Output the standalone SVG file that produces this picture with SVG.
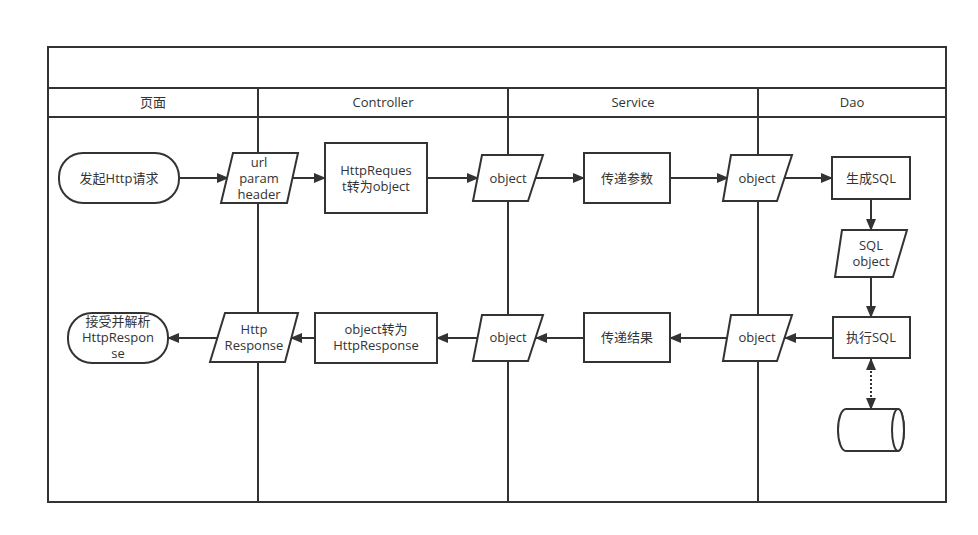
<svg xmlns="http://www.w3.org/2000/svg" width="978" height="535" viewBox="0 0 978 535">
<defs>
<style>
.ln{fill:none;stroke:#333;stroke-width:2}
.sh{fill:#fff;stroke:#333;stroke-width:2}
.c{stroke:#333;stroke-width:2;fill:none}
text{font-family:"Open Sans","Noto Sans CJK SC",sans-serif;font-size:13px;fill:#333;text-anchor:middle}
</style>
<marker id="ar" viewBox="0 0 12 10" refX="11" refY="5" markerWidth="12" markerHeight="10" markerUnits="userSpaceOnUse" orient="auto">
<path d="M0,0 L12,5 L0,10 Z" fill="#333"/>
</marker>
<marker id="as" viewBox="0 0 12 10" refX="1" refY="5" markerWidth="12" markerHeight="10" markerUnits="userSpaceOnUse" orient="auto">
<path d="M12,0 L0,5 L12,10 Z" fill="#333"/>
</marker>
</defs>
<rect width="978" height="535" fill="#fff"/>
<g id="pool">
<rect class="ln" x="48" y="47" width="898" height="455"/>
<line class="ln" x1="48" y1="88" x2="946" y2="88"/>
<line class="ln" x1="48" y1="117" x2="946" y2="117"/>
<line class="ln" x1="258" y1="88" x2="258" y2="502"/>
<line class="ln" x1="508" y1="88" x2="508" y2="502"/>
<line class="ln" x1="758" y1="88" x2="758" y2="502"/>
<text x="153" y="107">页面</text>
<text x="383" y="107">Controller</text>
<text x="633" y="107">Service</text>
<text x="852" y="107">Dao</text>
</g>
<g id="connectors">
<line class="c" x1="179" y1="178" x2="228" y2="178" marker-end="url(#ar)"/>
<line class="c" x1="293" y1="178" x2="325" y2="178" marker-end="url(#ar)"/>
<line class="c" x1="427" y1="178" x2="478" y2="178" marker-end="url(#ar)"/>
<line class="c" x1="536" y1="178" x2="584" y2="178" marker-end="url(#ar)"/>
<line class="c" x1="670" y1="178" x2="728" y2="178" marker-end="url(#ar)"/>
<line class="c" x1="785" y1="178" x2="832" y2="178" marker-end="url(#ar)"/>
<line class="c" x1="871" y1="199" x2="871" y2="230" marker-end="url(#ar)"/>
<line class="c" x1="871" y1="277" x2="871" y2="317" marker-end="url(#ar)"/>
<line class="c" x1="833" y1="338" x2="785" y2="338" marker-end="url(#ar)"/>
<line class="c" x1="728" y1="338" x2="670" y2="338" marker-end="url(#ar)"/>
<line class="c" x1="584" y1="338" x2="536" y2="338" marker-end="url(#ar)"/>
<line class="c" x1="478" y1="338" x2="437" y2="338" marker-end="url(#ar)"/>
<line class="c" x1="315" y1="338" x2="291" y2="338" marker-end="url(#ar)"/>
<line class="c" x1="217" y1="338" x2="168" y2="338" marker-end="url(#ar)"/>
<line class="c" x1="871" y1="359" x2="871" y2="409" stroke-dasharray="2,2" marker-start="url(#as)" marker-end="url(#ar)"/>
</g>
<g id="n1"><rect class="sh" x="59" y="153" width="120" height="50" rx="24"/><text x="119" y="183">发起Http请求</text></g>
<g id="n2"><polygon class="sh" points="233,153 298,153 287,203 221,203"/><text x="259" y="167">url</text><text x="259" y="183">param</text><text x="259" y="199">header</text></g>
<g id="n3"><rect class="sh" x="325" y="143" width="102" height="70"/><text x="376" y="175">HttpReques</text><text x="376" y="191">t转为object</text></g>
<g id="n4"><polygon class="sh" points="482,155 543,155 528,201 473,201"/><text x="508" y="183">object</text></g>
<g id="n5"><rect class="sh" x="584" y="153" width="86" height="50"/><text x="627" y="183">传递参数</text></g>
<g id="n6"><polygon class="sh" points="731,155 792,155 777,201 723,201"/><text x="757" y="183">object</text></g>
<g id="n7"><rect class="sh" x="832" y="157" width="78" height="42"/><text x="871" y="183">生成SQL</text></g>
<g id="n8"><polygon class="sh" points="842,230 907,230 893,277 835,277"/><text x="871" y="250">SQL</text><text x="871" y="266">object</text></g>
<g id="n9"><rect class="sh" x="833" y="317" width="77" height="41"/><text x="871" y="342">执行SQL</text></g>
<g id="n10"><path class="sh" d="M846,409 L898,409 A6,21 0 0 1 898,451 L846,451 A8,21 0 0 1 846,409 Z"/><ellipse class="sh" cx="898" cy="430" rx="6" ry="21"/></g>
<g id="n11"><polygon class="sh" points="482,315 543,315 528,361 473,361"/><text x="508" y="342">object</text></g>
<g id="n12"><rect class="sh" x="584" y="313" width="86" height="49"/><text x="627" y="342">传递结果</text></g>
<g id="n13"><polygon class="sh" points="731,315 792,315 777,361 723,361"/><text x="757" y="342">object</text></g>
<g id="n14"><rect class="sh" x="315" y="313" width="122" height="50"/><text x="376" y="334">object转为</text><text x="376" y="350">HttpResponse</text></g>
<g id="n15"><polygon class="sh" points="225,313 298,313 285,362 210,362"/><text x="254" y="334">Http</text><text x="254" y="350">Response</text></g>
<g id="n16"><rect class="sh" x="68" y="313" width="100" height="50" rx="24"/><text x="118" y="326">接受并解析</text><text x="118" y="342">HttpRespon</text><text x="118" y="358">se</text></g>
</svg>
